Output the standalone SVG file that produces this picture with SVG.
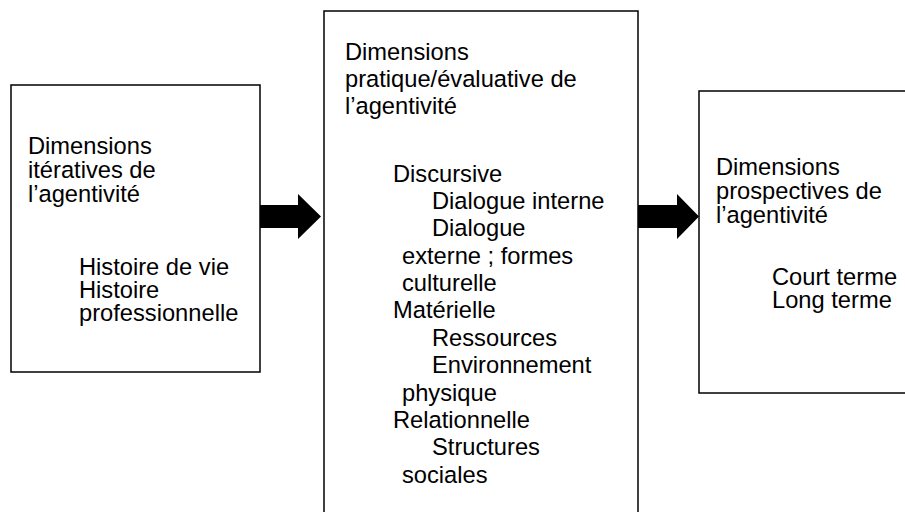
<svg xmlns="http://www.w3.org/2000/svg" width="905" height="512" viewBox="0 0 905 512">
<style>
  .box { fill: #ffffff; stroke: #000000; stroke-width: 1.5; }
  .t { font-family: "Liberation Sans", Arial, sans-serif; font-size: 23.7px; fill: #000000; }
  .arrow { fill: #000000; stroke: none; }
</style>
<rect width="905" height="512" fill="#ffffff"/>
<g id="node-iterative">
  <rect class="box" x="11" y="85" width="249" height="287"/>
  <text class="t" x="28" y="154">Dimensions</text>
  <text class="t" x="28" y="178">itératives de</text>
  <text class="t" x="28" y="202">l’agentivité</text>
  <text class="t" x="79" y="275">Histoire de vie</text>
  <text class="t" x="79" y="298">Histoire</text>
  <text class="t" x="79" y="321">professionnelle</text>
</g>
<g id="node-pratique">
  <rect class="box" x="324" y="11" width="314" height="520"/>
  <text class="t" x="345" y="60">Dimensions</text>
  <text class="t" x="345" y="87">pratique/évaluative de</text>
  <text class="t" x="345" y="114">l’agentivité</text>
  <text class="t" x="393" y="182">Discursive</text>
  <text class="t" x="432" y="209">Dialogue interne</text>
  <text class="t" x="432" y="236">Dialogue</text>
  <text class="t" x="402" y="264">externe ; formes</text>
  <text class="t" x="402" y="291">culturelle</text>
  <text class="t" x="393" y="318">Matérielle</text>
  <text class="t" x="432" y="346">Ressources</text>
  <text class="t" x="432" y="373">Environnement</text>
  <text class="t" x="402" y="401">physique</text>
  <text class="t" x="393" y="428">Relationnelle</text>
  <text class="t" x="432" y="455">Structures</text>
  <text class="t" x="402" y="483">sociales</text>
</g>
<g id="node-prospective">
  <rect class="box" x="699" y="91" width="220" height="302"/>
  <text class="t" x="716" y="175">Dimensions</text>
  <text class="t" x="716" y="199">prospectives de</text>
  <text class="t" x="716" y="223">l’agentivité</text>
  <text class="t" x="772" y="285">Court terme</text>
  <text class="t" x="772" y="308">Long terme</text>
</g>
<g id="connectors">
  <polygon class="arrow" points="260,205 298,205 298,194 321,216.5 298,239 298,228 260,228"/>
  <polygon class="arrow" points="638,205 677,205 677,194 699,216.5 677,239 677,228 638,228"/>
</g>
</svg>
